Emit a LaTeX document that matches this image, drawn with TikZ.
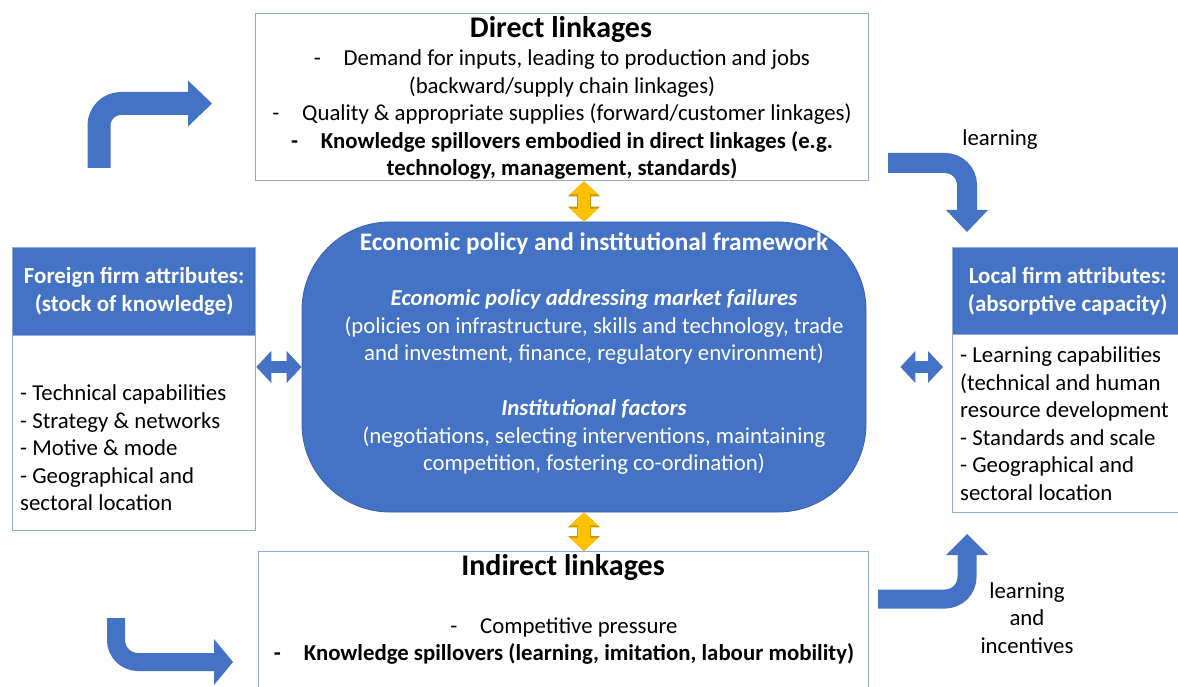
\documentclass[tikz,border=0pt]{standalone}
\usepackage{fontspec}
\setmainfont{Carlito}
\usepackage{tikz}
\usetikzlibrary{arrows.meta,positioning,calc}

\definecolor{linkblue}{HTML}{4472C4}
\definecolor{edgeblue}{HTML}{8FAADC}
\definecolor{linkgold}{HTML}{FFC000}
\definecolor{golddark}{HTML}{C99A06}

\newcommand\bodysize{\fontsize{22.8}{27.5}\selectfont}
\newcommand\titlesize{\fontsize{30}{34}\selectfont\bfseries}
\newcommand\headsize{\fontsize{23}{28}\selectfont\bfseries}
\newcommand\policyhead{\fontsize{25.3}{27.5}\selectfont\bfseries}
\newcommand\dashitem{-\hspace{1em}}

\begin{document}
\begin{tikzpicture}[x=1pt, y=-1pt,
  framebox/.style={draw=edgeblue, line width=1.3pt, anchor=north west, inner sep=0pt},
  headbox/.style={framebox, fill=linkblue, text=white, font=\headsize, align=center},
  bodytext/.style={font=\bodysize, align=center, inner sep=0pt},
  listtext/.style={font=\bodysize, align=left, inner sep=0pt, anchor=west},
  titletext/.style={font=\titlesize, inner sep=0pt},
  policyshape/.style={fill=linkblue, draw=linkblue!85!black, line width=0.8pt, rounded corners=88pt, minimum width=564pt, minimum height=290pt},
  policytext/.style={font=\bodysize, text=white, align=center, inner sep=0pt},
  bentarrow/.style={draw=linkblue, line width=#1, rounded corners=22pt},
  bluelink/.style={draw=linkblue, line width=12pt, {Triangle[length=15pt,width=32pt,line width=0pt,fill=linkblue]}-{Triangle[length=15pt,width=32pt,line width=0pt,fill=linkblue]}},
  goldlink/.style={draw=linkgold, line width=12pt, {Triangle[length=13pt,width=28pt,line width=0pt,fill=linkgold]}-{Triangle[length=13pt,width=28pt,line width=0pt,fill=linkgold]},
    preaction={draw=golddark, line width=14.5pt, {Triangle[length=15pt,width=32pt,line width=0pt,fill=golddark]}-{Triangle[length=15pt,width=32pt,line width=0pt,fill=golddark]}}}]
\useasboundingbox (0,0) rectangle (1178,687);

% boxes
\node(direct)[framebox, minimum width=613pt, minimum height=167pt] at (255,13) {};
\node(directtitle)[titletext] at (561,30) {Direct linkages};
\node(directlist)[bodytext] at (562,115) {\dashitem Demand for inputs, leading to production and jobs\\
  (backward/supply chain linkages)\\
  \dashitem Quality \& appropriate supplies (forward/customer linkages)\\
  \textbf{\dashitem Knowledge spillovers embodied in direct linkages (e.g.}\\
  \textbf{technology, management, standards)}};

\node(indirect)[framebox, minimum width=610pt, minimum height=170pt] at (258,551) {};
\node(indirecttitle)[titletext] at (563,568) {Indirect linkages};
\node(indirectlist)[bodytext] at (564,641) {\dashitem Competitive pressure\\
  \textbf{\dashitem Knowledge spillovers (learning, imitation, labour mobility)}};

\node(foreignhead)[headbox, minimum width=243pt, minimum height=88pt] at (12,247) {Foreign firm attributes:\\(stock of knowledge)};
\node(foreign)[framebox, minimum width=243pt, minimum height=195pt] at (12,335) {};
\node(foreigntext)[listtext] at (20,448) {- Technical capabilities\\- Strategy \& networks\\- Motive \& mode\\- Geographical and\\sectoral location};

\node(localhead)[headbox, minimum width=230pt, minimum height=87pt] at (952,247) {Local firm attributes:\\(absorptive capacity)};
\node(local)[framebox, minimum width=230pt, minimum height=178pt] at (952,334) {};
\node(localtext)[listtext] at (960,423.5) {- Learning capabilities\\(technical and human\\resource development\\- Standards and scale\\- Geographical and\\sectoral location};

% policy framework
\node(policy)[policyshape] at (584,367) {};
\node(policytext)[policytext] at (594,354) {{\policyhead Economic policy and institutional framework}\\[27.5pt]
  \textbf{\itshape Economic policy addressing market failures}\\
  (policies on infrastructure, skills and technology, trade\\
  and investment, finance, regulatory environment)\\[27.5pt]
  \textbf{\itshape Institutional factors}\\
  (negotiations, selecting interventions, maintaining\\
  competition, fostering co-ordination)};

% links
\draw [goldlink] (policy.north |- direct.south) to (policy.north);
\draw [goldlink] (policy.south) to (policy.south |- indirect.north);
\draw [bluelink] (foreign.east |- policy.west) to (policy.west);
\draw [bluelink, shorten <=34pt, shorten >=9pt] (policy.east) to (local.west |- policy.east);

% bent arrows
\coordinate(fdiA) at (99,168);   \coordinate(toDirect) at (212,103.5);
\coordinate(fromDirect) at (888,163); \coordinate(toLocalA) at (967,232);
\coordinate(fromIndirect) at (878,599); \coordinate(toLocalB) at (967,534);
\coordinate(fdiB) at (116,618);  \coordinate(toIndirect) at (233,662);

\draw [bentarrow=23pt, -{Triangle[length=24pt,width=46pt,line width=0pt,fill=linkblue]}] (fdiA) |- (toDirect);
\draw [bentarrow=20pt, -{Triangle[length=22pt,width=42pt,line width=0pt,fill=linkblue]}] (fromDirect) -| (toLocalA);
\draw [bentarrow=19pt, -{Triangle[length=21pt,width=42pt,line width=0pt,fill=linkblue]}] (fromIndirect) -| (toLocalB);
\draw [bentarrow=18pt, -{Triangle[length=19pt,width=46pt,line width=0pt,fill=linkblue]}] (fdiB) |- (toIndirect);

\node(learnA)[bodytext] at (1000,140) {learning};
\node(learnB)[bodytext] at (1027,618) {learning\\and\\incentives};
\end{tikzpicture}
\end{document}
